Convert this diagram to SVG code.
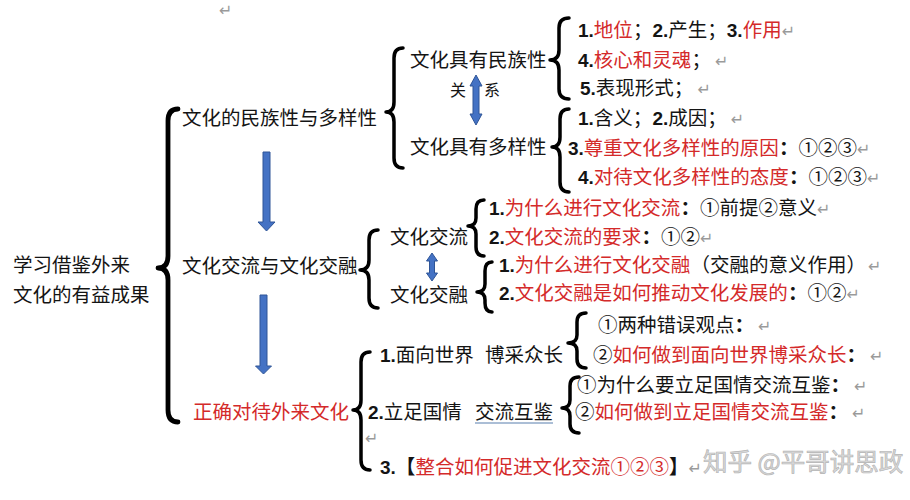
<svg xmlns="http://www.w3.org/2000/svg" width="910" height="500" viewBox="0 0 910 500">
<style>
text{font-family:"Noto Sans CJK SC","Noto Sans",sans-serif;font-size:19.5px;fill:#141414}
.r{fill:#d42a2a}
.n{font-family:"Liberation Sans",Arial,sans-serif;font-weight:bold;font-size:19px;fill:#141414}
.k{font-weight:bold}
.ret{font-family:"DejaVu Sans",sans-serif;font-size:16px;fill:#9a9a9a;font-weight:normal}
.s{font-size:16px}
.brace{fill:none;stroke:#000;stroke-width:3.5;stroke-linejoin:round;stroke-linecap:round}
.big{stroke-width:4.8}
.arr{fill:#4472c4;stroke:#2f5597;stroke-width:1}
.wm{font-size:24.5px;fill:#d9d9d9;stroke:#b5b5b5;stroke-width:0.7}
</style>
<rect width="910" height="500" fill="#fff"/>

<g id="connectors">
  <path class="brace big" d="M178,109 Q168,109 168,121 L168,256 Q168,268 158,268 Q168,268 168,280 L168,410 Q168,422 178,422"/>
  <path class="brace" d="M403,48 Q394,48 394,58 L394,102 Q394,112 386,112 Q394,112 394,122 L394,158 Q394,168 403,168"/>
  <path class="brace" d="M569,18 Q559,18 559,28 L559,50 Q559,60 550,60 Q559,60 559,70 L559,89 Q559,99 569,99"/>
  <path class="brace" d="M569,109 Q560,109 560,119 L560,137 Q560,147 552,147 Q560,147 560,157 L560,182 Q560,192 569,192"/>
  <path class="brace" d="M378,230 Q369,230 369,240 L369,260 Q369,270 360,270 Q369,270 369,280 L369,298 Q369,308 378,308"/>
  <path class="brace" d="M484,200 Q476,200 476,209 L476,218 Q476,226 468,226 Q476,226 476,234 L476,247 Q476,256 484,256"/>
  <path class="brace" d="M492,262 Q485,262 485,271 L485,284 Q485,292 477,292 Q485,292 485,300 L485,303 Q485,312 492,312"/>
  <path class="brace" d="M370,352 Q361,352 361,362 L361,400 Q361,410 353,410 Q361,410 361,420 L361,460 Q361,470 370,470"/>
  <path class="brace" d="M586,313 Q577,313 577,322 L577,335 Q577,343 568,343 Q577,343 577,351 L577,359 Q577,368 586,368"/>
  <path class="brace" d="M579,377 Q570,377 570,386 L570,400 Q570,408 562,408 Q570,408 570,416 L570,424 Q570,433 579,433"/>
  <polygon class="arr" points="263,152 270,152 270,222 275,222 266.5,231 258,222 263,222"/>
  <polygon class="arr" points="260,295 267,295 267,366 271.5,366 263.5,374 255.5,366 260,366"/>
  <polygon class="arr" points="476,75 482,86 479,86 479,114 482,114 476,125 470,114 473,114 473,86 470,86"/>
  <polygon class="arr" points="432,253 437.5,261 434.5,261 434.5,273 437.5,273 432,281 426.5,273 429.5,273 429.5,261 426.5,261"/>
  <line x1="475" y1="423" x2="553" y2="423" stroke="#8fa8c8" stroke-width="1.6"/>
</g>

<g id="root">
  <text x="13" y="272">学习借鉴外来</text>
  <text x="13" y="302">文化的有益成果</text>
</g>
<g id="n-diversity"><text x="182" y="125">文化的民族性与多样性</text></g>
<g id="n-exchange"><text x="182" y="273">文化交流与文化交融</text></g>
<g id="n-treat"><text x="193" y="419" class="r">正确对待外来文化</text></g>

<g id="n-national">
  <text x="410" y="67">文化具有民族性</text>
  <text x="450" y="96" class="s">关</text>
  <text x="484" y="96" class="s">系</text>
</g>
<g id="n-national-items">
  <text x="578" y="37"><tspan class="n">1.</tspan><tspan class="r">地位</tspan>；<tspan class="n">2.</tspan>产生；<tspan class="n">3.</tspan><tspan class="r">作用</tspan><tspan class="ret">↵</tspan></text>
  <text x="578" y="67"><tspan class="n">4.</tspan><tspan class="r">核心和灵魂</tspan>；<tspan class="ret" dx="4">↵</tspan></text>
  <text x="580" y="95"><tspan class="n">5.</tspan>表现形式；<tspan class="ret" dx="4">↵</tspan></text>
</g>
<g id="n-diverse">
  <text x="410" y="154">文化具有多样性</text>
</g>
<g id="n-diverse-items">
  <text x="578" y="125"><tspan class="n">1.</tspan>含义；<tspan class="n">2.</tspan>成因；<tspan class="ret" dx="4">↵</tspan></text>
  <text x="568" y="155"><tspan class="n">3.</tspan><tspan class="r">尊重文化多样性的原因</tspan><tspan class="k">：</tspan>①②③<tspan class="ret">↵</tspan></text>
  <text x="578" y="184"><tspan class="n">4.</tspan><tspan class="r">对待文化多样性的态度</tspan><tspan class="k">：</tspan>①②③<tspan class="ret">↵</tspan></text>
</g>

<g id="n-jiaoliu">
  <text x="390" y="244">文化交流</text>
</g>
<g id="n-jiaoliu-items">
  <text x="489" y="215"><tspan class="n">1.</tspan><tspan class="r">为什么进行文化交流</tspan><tspan class="k">：</tspan>①前提②意义<tspan class="ret">↵</tspan></text>
  <text x="489" y="244"><tspan class="n">2.</tspan><tspan class="r">文化交流的要求</tspan><tspan class="k">：</tspan>①②<tspan class="ret">↵</tspan></text>
</g>
<g id="n-jiaorong">
  <text x="390" y="302">文化交融</text>
</g>
<g id="n-jiaorong-items">
  <text x="499" y="272"><tspan class="n">1.</tspan><tspan class="r">为什么进行文化交融</tspan>（交融的意义作用）<tspan class="ret" dx="2">↵</tspan></text>
  <text x="499" y="300"><tspan class="n">2.</tspan><tspan class="r">文化交融是如何推动文化发展的</tspan><tspan class="k">：</tspan>①②<tspan class="ret">↵</tspan></text>
</g>

<g id="n-world">
  <text x="380" y="362"><tspan class="n">1.</tspan>面向世界</text>
  <text x="485" y="362">博采众长</text>
</g>
<g id="n-world-items">
  <text x="598" y="332">①两种错误观点<tspan class="k">：</tspan><tspan class="ret" dx="4">↵</tspan></text>
  <text x="593" y="362">②<tspan class="r">如何做到面向世界博采众长</tspan><tspan class="k">：</tspan><tspan class="ret" dx="4">↵</tspan></text>
</g>
<g id="n-guoqing">
  <text x="368" y="419"><tspan class="n">2.</tspan>立足国情</text>
  <text x="475" y="419">交流互鉴</text>
  <text x="365" y="444" class="ret">↵</text>
</g>
<g id="n-guoqing-items">
  <text x="577" y="392">①为什么要立足国情交流互鉴<tspan class="k">：</tspan><tspan class="ret" dx="4">↵</tspan></text>
  <text x="575" y="419">②<tspan class="r">如何做到立足国情交流互鉴</tspan><tspan class="k">：</tspan><tspan class="ret" dx="4">↵</tspan></text>
</g>
<g id="n-integrate">
  <text x="380" y="474"><tspan class="n">3.</tspan><tspan class="k">【</tspan><tspan class="r">整合如何促进文化交流①②③</tspan><tspan class="k">】</tspan><tspan class="ret">↵</tspan></text>
</g>

<text x="219" y="16" class="ret">↵</text>
<text x="703" y="471" class="wm">知乎 @平哥讲思政</text>
</svg>
